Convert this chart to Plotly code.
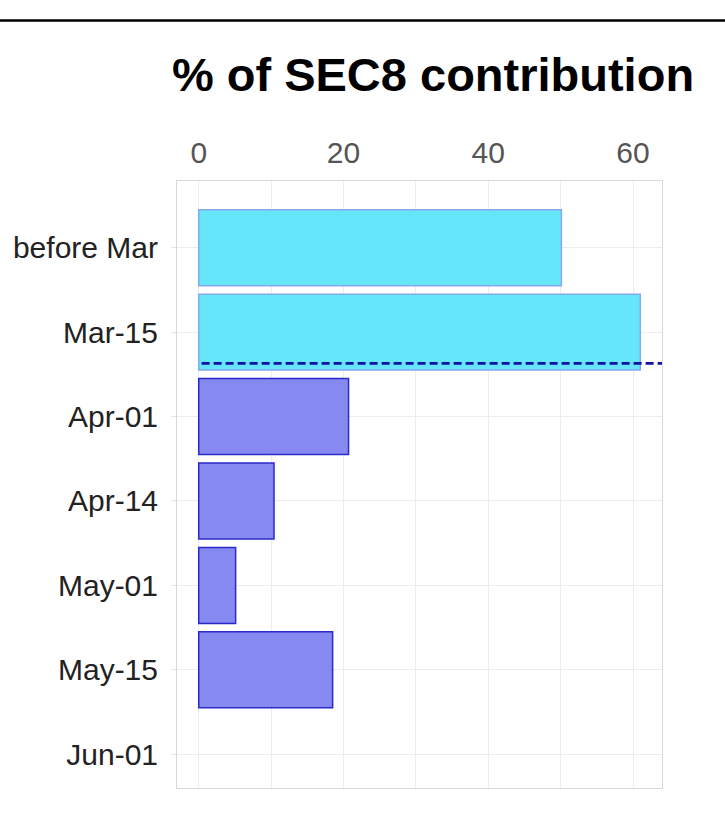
import plotly.graph_objects as go

# Contribution share per period
periods = ["before Mar", "Mar-15", "Apr-01", "Apr-14", "May-01", "May-15", "Jun-01"]
share_pct = [50.1, 61.0, 20.7, 10.4, 5.1, 18.5, None]
early_periods = ["before Mar", "Mar-15"]

# Reference level drawn as a dashed line (in row units below Mar-15)
ref_row = 1.37
ref_x_start = 0.4

x_tick_vals = [0, 20, 40, 60]

CYAN_FILL = "#66e6fc"
CYAN_EDGE = "#84a8f2"
BLUE_FILL = "#8589f0"
BLUE_EDGE = "#2a2ac8"

fill_colors = [CYAN_FILL if p in early_periods else BLUE_FILL for p in periods]
edge_colors = [CYAN_EDGE if p in early_periods else BLUE_EDGE for p in periods]

W, H = 725, 819
L, R, T, B = 177, 63, 181, 31

fig = go.Figure(
    go.Bar(
        x=share_pct,
        y=periods,
        orientation="h",
        width=0.9,
        marker=dict(color=fill_colors, line=dict(color=edge_colors, width=1.5)),
        hoverinfo="x+y",
    )
)

grid = "#ececec"
fig.update_layout(
    width=W,
    height=H,
    margin=dict(l=L, r=R, t=T, b=B, pad=0),
    paper_bgcolor="white",
    plot_bgcolor="white",
    showlegend=False,
    font=dict(family="Liberation Sans, Arial, sans-serif", color="#222"),
    title=dict(
        text="<b>% of SEC8 contribution</b>",
        font=dict(size=47, color="#000"),
        x=(433 - L) / (W - L - R),
        xref="paper",
        xanchor="center",
        y=1 - 75 / H,
        yref="container",
        yanchor="middle",
    ),
    xaxis=dict(
        side="top",
        range=[-3, 64],
        tickvals=x_tick_vals,
        tickfont=dict(size=30, color="#555"),
        showgrid=True,
        gridcolor=grid,
        gridwidth=1,
        minor=dict(dtick=10, tick0=0, showgrid=True, gridcolor=grid, gridwidth=1),
        zeroline=False,
        showline=True,
        linecolor="#d8d8d8",
        linewidth=1,
        mirror=True,
        ticks="",
        ticklabelstandoff=5,
        fixedrange=True,
    ),
    yaxis=dict(
        type="category",
        categoryorder="array",
        categoryarray=periods,
        range=[6.4, -0.79],
        tickfont=dict(size=30, color="#222"),
        showgrid=True,
        gridcolor=grid,
        gridwidth=1,
        zeroline=False,
        showline=True,
        linecolor="#d8d8d8",
        linewidth=1,
        mirror=True,
        ticks="outside",
        ticklen=5,
        tickcolor="#e6e6e6",
        ticklabelstandoff=7,
        fixedrange=True,
    ),
    shapes=[
        # dashed reference line
        dict(
            type="line",
            xref="x",
            yref="y",
            x0=ref_x_start,
            x1=64,
            y0=ref_row,
            y1=ref_row,
            line=dict(color="#1212a8", width=2.8, dash="8px,4px"),
        ),
        # rule across the top of the page
        dict(
            type="line",
            xref="paper",
            yref="paper",
            x0=-L / (W - L - R),
            x1=(W - L) / (W - L - R),
            y0=(H - B - 20.5) / (H - T - B),
            y1=(H - B - 20.5) / (H - T - B),
            line=dict(color="#000", width=2.5),
        ),
    ],
)

fig.write_html("out.html")
